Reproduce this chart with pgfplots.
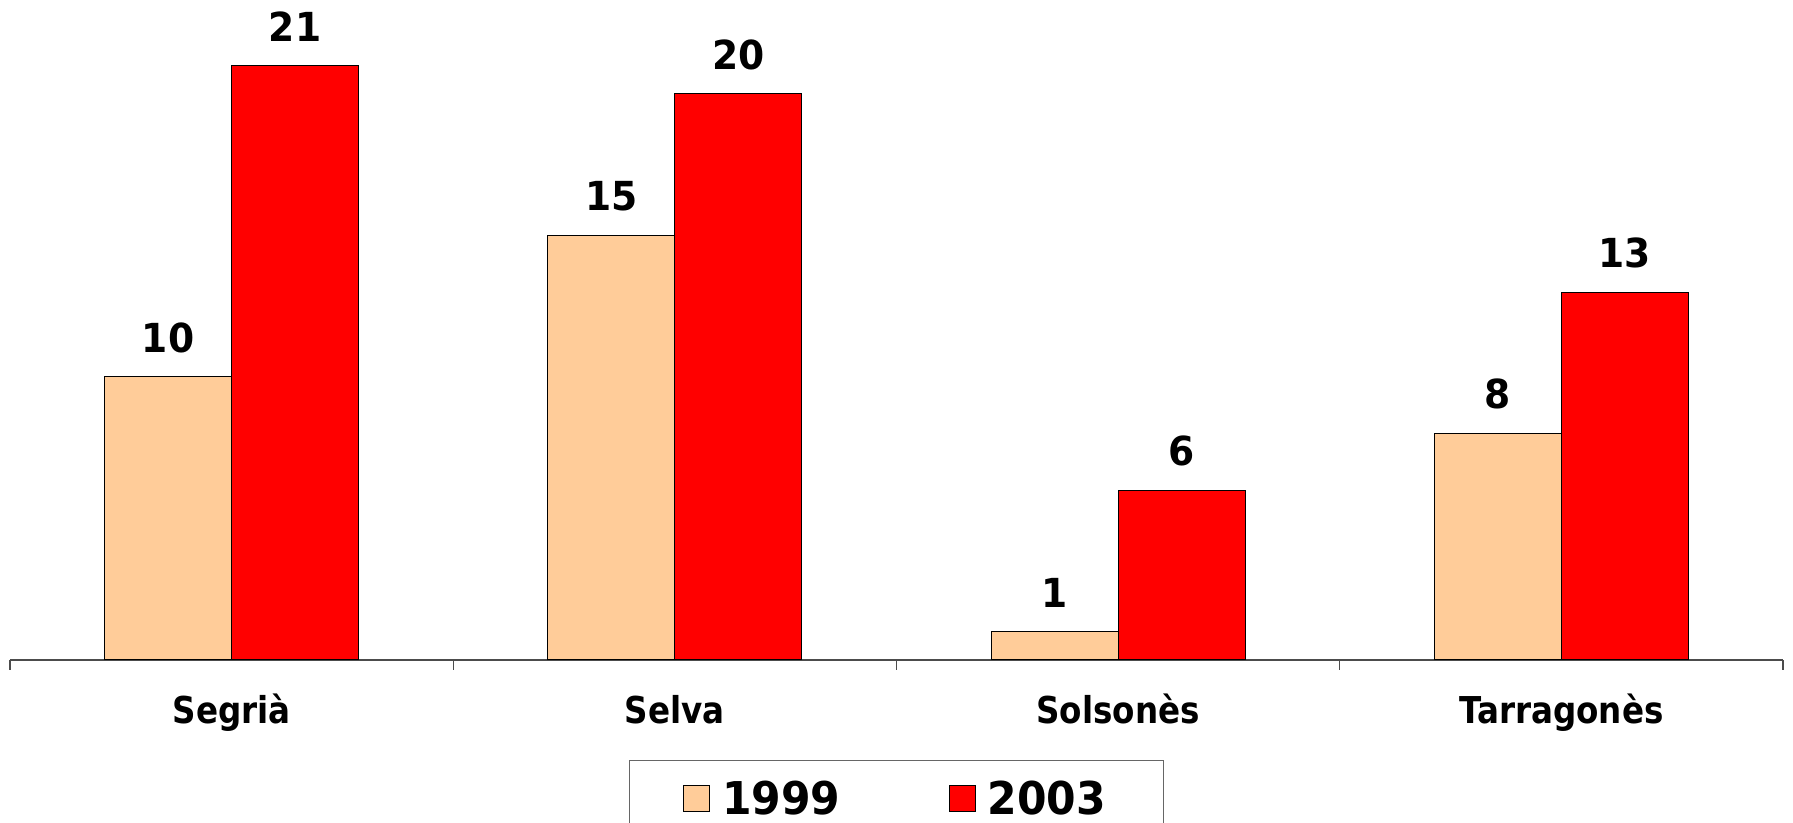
\documentclass[border=0pt]{standalone}
\usepackage{fontspec}
\setmainfont{DejaVu Sans}
\newfontfamily\ticknarrow[FakeStretch=0.88]{DejaVu Sans}
\newfontfamily\numnarrow[FakeStretch=0.94]{DejaVu Sans}
\usepackage{pgfplots}
\pgfplotsset{compat=1.18}
\definecolor{peach}{HTML}{FFCC99}
\definecolor{myred}{HTML}{FF0000}
\begin{document}
\begin{tikzpicture}
\begin{axis}[
  scale only axis,
  width=886.5pt, height=325.5pt,
  ybar=0pt, bar width=63.5pt,
  xmin=-0.5, xmax=3.5, ymin=0, ymax=23,
  axis x line*=bottom, axis y line=none,
  xtick={0,1,2,3},
  xticklabels={Segrià, Selva, Solsonès, Tarragonès},
  major tick length=0pt,
  minor xtick={-0.5,0.5,1.5,2.5,3.5},
  minor tick length=5pt,
  tick align=outside,
  x axis line style={black!70, line width=0.6pt},
  every tick/.style={black!70, line width=0.6pt},
  xticklabel style={font=\ticknarrow\fontsize{18.5}{20}\selectfont\bfseries, anchor=base, yshift=-32pt},
  /pgf/number format/assume math mode=true,
  nodes near coords,
  every node near coord/.append style={font=\numnarrow\fontsize{20}{22}\selectfont\bfseries, yshift=8.5pt},
  legend columns=2,
  legend style={at={(0.5,0)}, anchor=north, yshift=-50pt,
    draw=black!60, line width=0.6pt, inner xsep=27pt, inner ysep=8pt,
    font=\numnarrow\fontsize{22.6}{26}\selectfont\bfseries,
    /tikz/every even column/.append style={column sep=52pt}},
  legend image code/.code={\draw[#1, line width=0.6pt] (3pt,-6.5pt) rectangle (16pt,6.5pt); \path (20pt,0pt);},
]
\addplot[fill=peach, draw=black, line width=0.5pt] coordinates {(0,10) (1,15) (2,1) (3,8)};
\addplot[fill=myred, draw=black, line width=0.5pt] coordinates {(0,21) (1,20) (2,6) (3,13)};
\legend{1999,2003}
\end{axis}
\pgfresetboundingbox
\path[use as bounding box] (-5pt,-81.5pt) rectangle (891.5pt,330pt);
\end{tikzpicture}
\end{document}
